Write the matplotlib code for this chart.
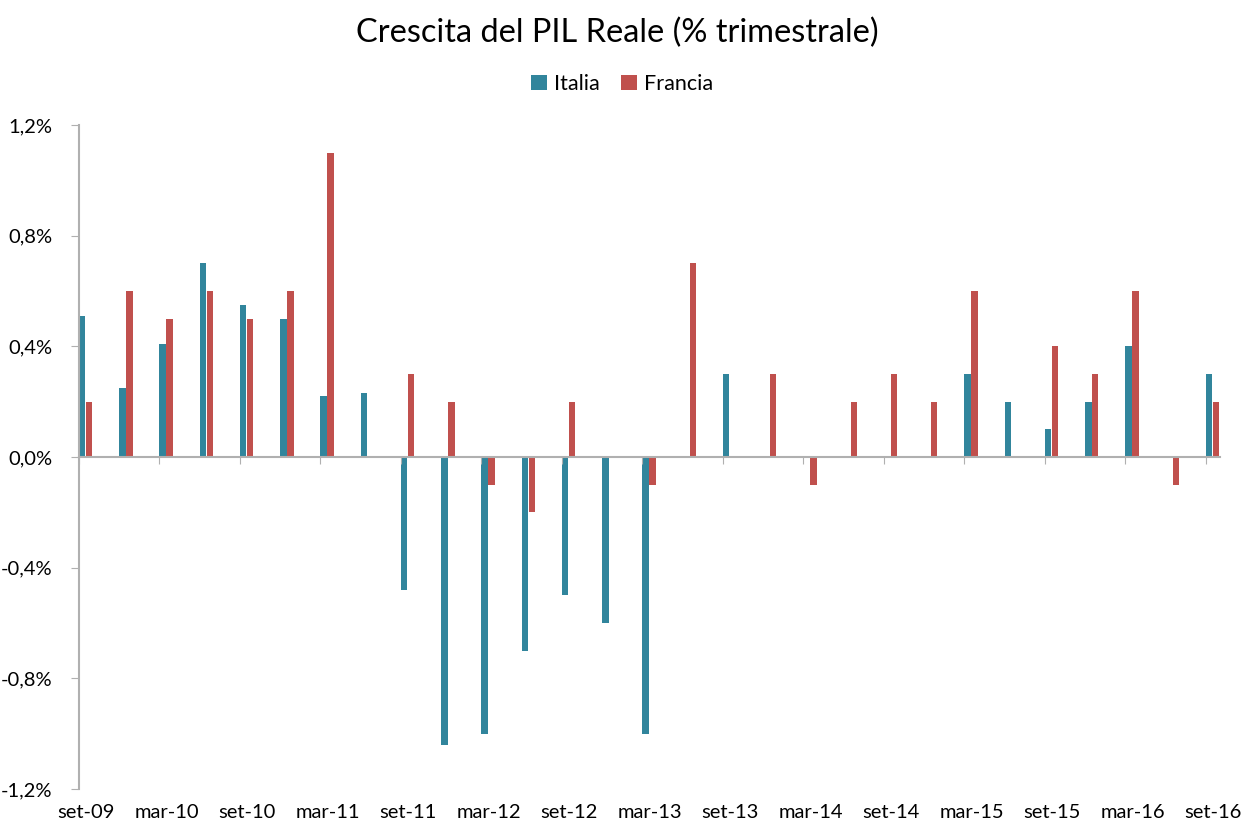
import numpy as np
import matplotlib
matplotlib.use('Agg')
import matplotlib.pyplot as plt
from matplotlib.ticker import FuncFormatter

plt.rcParams['font.family'] = ['Lato', 'DejaVu Sans']

# quarters from set-09 to set-16
quarters = ['set-09', 'dic-09', 'mar-10', 'giu-10', 'set-10', 'dic-10', 'mar-11', 'giu-11',
            'set-11', 'dic-11', 'mar-12', 'giu-12', 'set-12', 'dic-12', 'mar-13', 'giu-13',
            'set-13', 'dic-13', 'mar-14', 'giu-14', 'set-14', 'dic-14', 'mar-15', 'giu-15',
            'set-15', 'dic-15', 'mar-16', 'giu-16', 'set-16']
italia = [0.51, 0.25, 0.41, 0.70, 0.55, 0.50, 0.22, 0.23, -0.48, -1.04, -1.00, -0.70, -0.50, -0.60,
          -1.00, 0.0, 0.30, 0.0, 0.0, 0.0, 0.0, 0.0, 0.30, 0.20, 0.10, 0.20, 0.40, 0.0, 0.30]
francia = [0.20, 0.60, 0.50, 0.60, 0.50, 0.60, 1.10, 0.0, 0.30, 0.20, -0.10, -0.20, 0.20, 0.0,
           -0.10, 0.70, 0.0, 0.30, -0.10, 0.20, 0.30, 0.20, 0.60, 0.0, 0.40, 0.30, 0.60, -0.10, 0.20]
yticks = [-1.2, -0.8, -0.4, 0.0, 0.4, 0.8, 1.2]

c_it = '#31859C'
c_fr = '#C0504D'
grey = '#B0B0B0'

fig = plt.figure(figsize=(12.5, 8.24), dpi=100)
ax = fig.add_axes([79/1250, 1 - 789/824, (1220 - 79)/1250, (789 - 125)/824])

x = np.arange(len(quarters))
w = 0.16
ax.bar(x, italia, width=w, align='edge', color=c_it, label='Italia')
ax.bar(x + w + 0.01, francia, width=w, align='edge', color=c_fr, label='Francia')

ax.set_xlim(0, 28.35)
ax.set_ylim(-1.2, 1.2)
ax.set_yticks(yticks)
ax.yaxis.set_major_formatter(FuncFormatter(lambda v, p: f'{v:.1f}%'.replace('.', ',')))
ax.tick_params(axis='y', length=6, color=grey, labelsize=14.5, pad=13)

for s in ['top', 'right']:
    ax.spines[s].set_visible(False)
ax.spines['left'].set_color(grey)
ax.spines['left'].set_linewidth(1.5)
ax.spines['bottom'].set_position(('data', 0))
ax.spines['bottom'].set_color(grey)
ax.spines['bottom'].set_linewidth(1.5)
ax.set_xticks(x[::2])
ax.set_xticklabels([])
ax.tick_params(axis='x', length=5, color=grey)

# labels sit under the centre of each bar pair
sec = ax.secondary_xaxis('bottom')
sec.set_xticks(x[::2] + 0.18)
sec.set_xticklabels(quarters[::2])
sec.tick_params(length=0, labelsize=14.5, pad=11)
sec.spines['bottom'].set_visible(False)

fig.suptitle('Crescita del PIL Reale (% trimestrale)', x=0.494, y=1 - 33/824, va='center', fontsize=23.4)
fig.legend(loc='center', bbox_to_anchor=(0.4975, 1 - 84/824), ncol=2, frameon=False,
           fontsize=15.5, handlelength=0.75, handleheight=0.75, handletextpad=0.3, columnspacing=1.0)

fig.savefig('out.png', dpi=100, facecolor='white')
